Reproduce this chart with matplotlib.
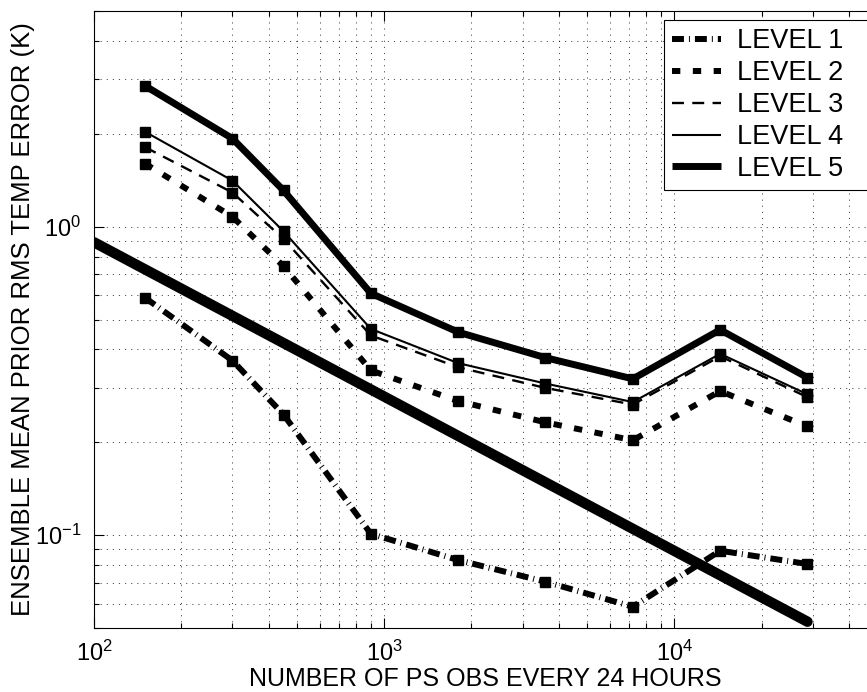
import matplotlib
matplotlib.use("Agg")
import matplotlib.pyplot as plt

plt.rcParams['font.family'] = ['Liberation Sans', 'DejaVu Sans']
plt.rcParams['mathtext.default'] = 'regular'
plt.rcParams['lines.scale_dashes'] = False

# Number of surface-pressure observations assimilated per 24 hours
obs = [150, 300, 450, 900, 1800, 3600, 7200, 14400, 28800]

# Ensemble-mean prior RMS temperature error (K) for each model level
level1 = [0.588, 0.368, 0.246, 0.101, 0.083, 0.0706, 0.0586, 0.089, 0.0806]
level2 = [1.60, 1.077, 0.744, 0.342, 0.272, 0.232, 0.203, 0.293, 0.225]
level3 = [1.81, 1.29, 0.912, 0.444, 0.350, 0.300, 0.265, 0.380, 0.280]
level4 = [2.03, 1.41, 0.966, 0.466, 0.361, 0.310, 0.270, 0.387, 0.286]
level5 = [2.86, 1.93, 1.31, 0.608, 0.455, 0.376, 0.321, 0.463, 0.324]

# Reference slope line (error ~ N^-1/2)
ref_obs = [100, 28800]
ref_err = [0.89, 0.0524]

labels = ['LEVEL 1', 'LEVEL 2', 'LEVEL 3', 'LEVEL 4', 'LEVEL 5']

fig = plt.figure(figsize=(8.67, 6.92), dpi=100)
W, H = 867, 692
ax = fig.add_axes([94 / W, (H - 628) / H, (877 - 94) / W, (628 - 11) / H])

ms = 7.0
styles = [
    dict(lw=4.3, ls=(0, (8.6, 3.6, 0.7, 3.6))),
    dict(lw=4.3, ls=(0, (6.0, 9.0))),
    dict(lw=1.7, ls=(0, (8.6, 6.0))),
    dict(lw=1.5, ls='-'),
    dict(lw=5.0, ls='-'),
]
series = [level1, level2, level3, level4, level5]
for vals, st, lab in zip(series, styles, labels):
    ax.plot(obs, vals, color='k', linewidth=st['lw'], linestyle=st['ls'],
            dash_capstyle='butt', solid_capstyle='butt', solid_joinstyle='miter',
            marker='s', markersize=ms, markerfacecolor='k', markeredgecolor='k',
            label=lab, zorder=3)

ax.plot(ref_obs, ref_err, color='k', linewidth=7.5, solid_capstyle='round', zorder=3)

ax.set_xscale('log')
ax.set_yscale('log')
ax.set_xlim(100, 50000)
ax.set_ylim(0.05, 5)

ax.grid(True, which='both', color='k', linestyle=(0, (0.8, 3.6)), linewidth=0.5)
ax.tick_params(which='both', direction='in', top=True, right=True,
               labelsize=17, width=0.8)
ax.tick_params(which='major', length=7, pad=9)
ax.tick_params(which='minor', length=3.5)
for s in ax.spines.values():
    s.set_linewidth(0.8)

ax.set_xlabel('NUMBER OF PS OBS EVERY 24 HOURS', fontsize=18, labelpad=1)
ax.set_ylabel('ENSEMBLE MEAN PRIOR RMS TEMP ERROR (K)', fontsize=18.5, labelpad=0)

# Legend box anchored near the upper right, running past the right edge
handles, labs = ax.get_legend_handles_labels()
leg = fig.legend(handles, labs, loc='upper left', mode='expand',
                 bbox_to_anchor=(664 / W, 1 - 20 / H, (885 - 664) / W, 0.0),
                 borderaxespad=0,
                 fontsize=19.5, handlelength=1.8, handletextpad=0.6,
                 borderpad=0.3, labelspacing=0.22, fancybox=False,
                 framealpha=1, edgecolor='k')
leg.get_frame().set_linewidth(0.8)
for h in leg.legend_handles:
    h.set_marker('')

fig.savefig('out.png', dpi=100)
